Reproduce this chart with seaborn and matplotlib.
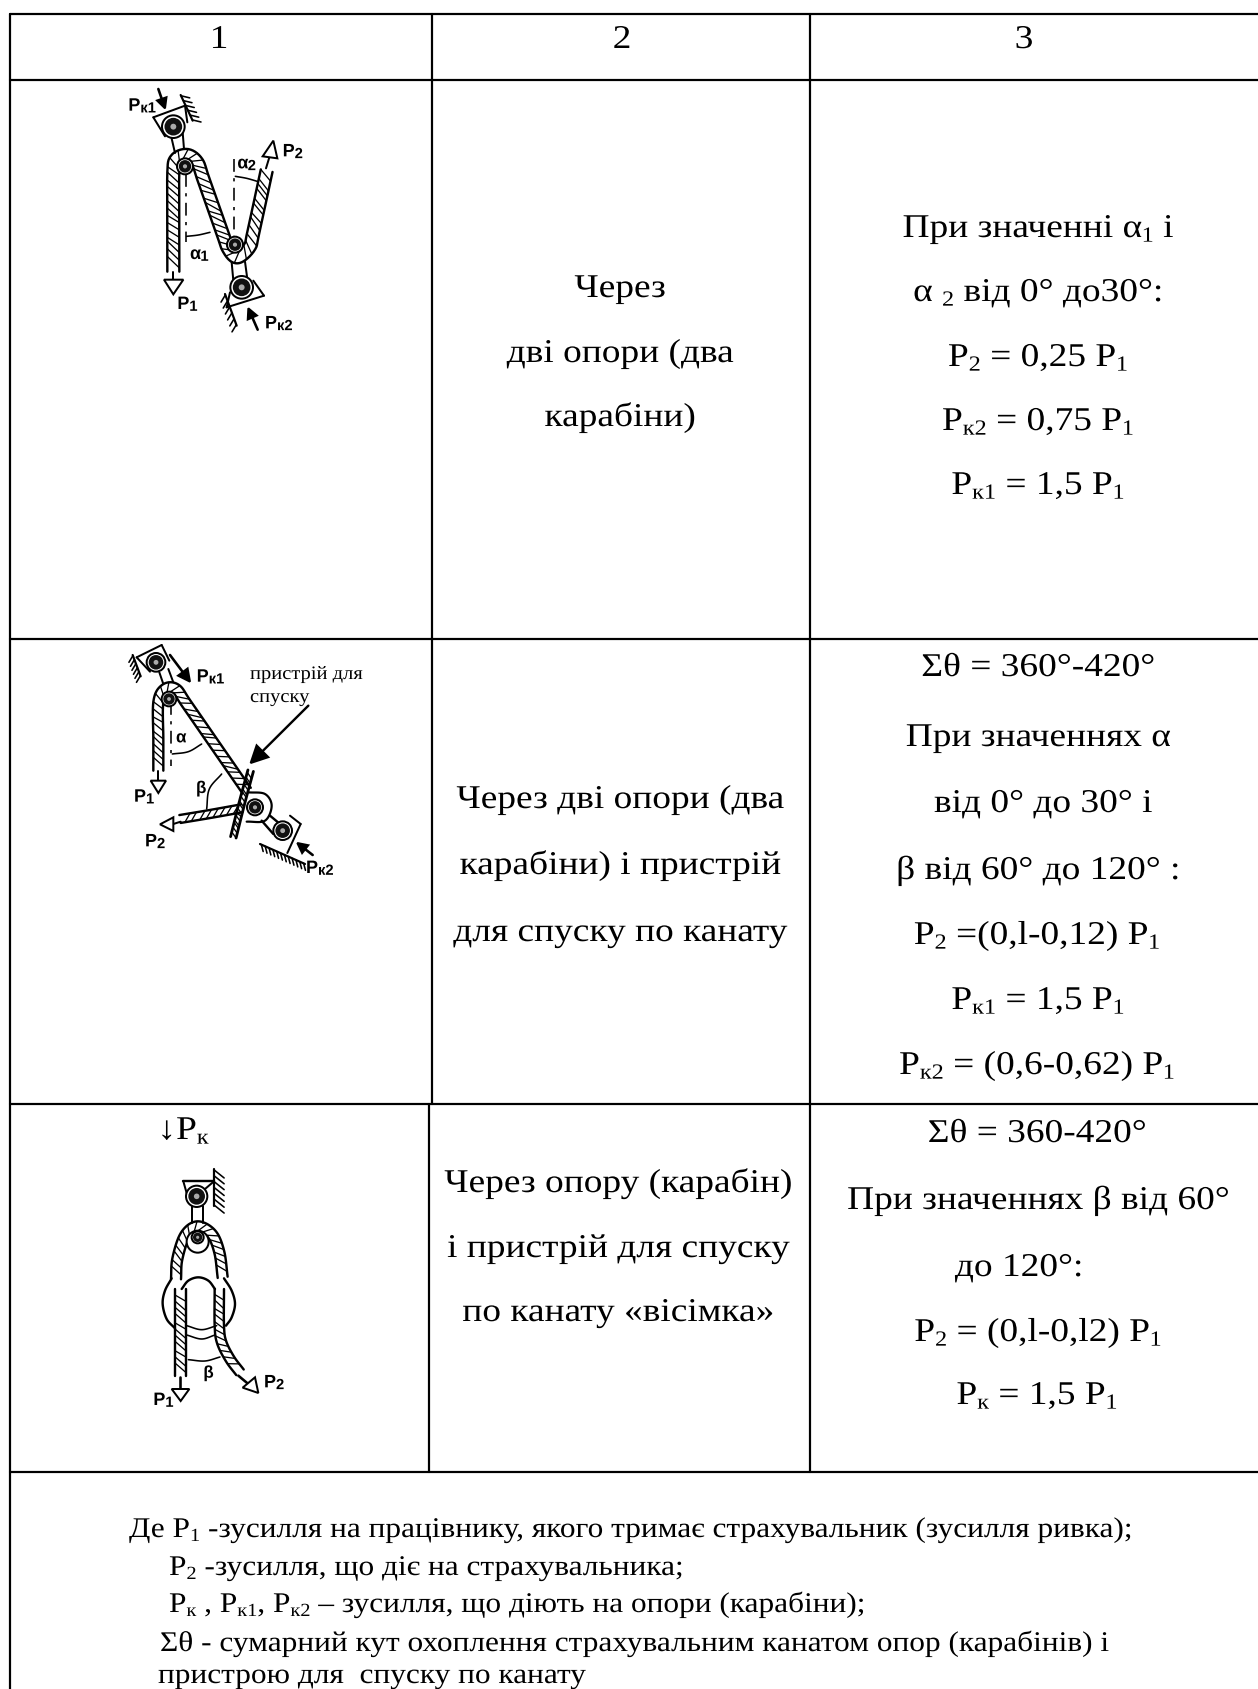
import re
import numpy as np
import matplotlib
matplotlib.use("Agg")
import matplotlib.pyplot as plt
from matplotlib.patches import Circle, Polygon
from matplotlib.patheffects import AbstractPathEffect
from matplotlib.transforms import Affine2D
import seaborn as sns

# table text, _{..} marks a subscript
header = ["1", "2", "3"]
row1_mid = ["Через", "дві опори (два", "карабіни)"]
row1_right = ["При значенні α_{1} і", "α _{2} від 0° до30°:", "P_{2} = 0,25 P_{1}",
              "P_{к2} = 0,75 P_{1}", "P_{к1} = 1,5 P_{1}"]
row2_mid = ["Через дві опори (два", "карабіни) і пристрій", "для спуску по канату"]
row2_right = ["Σθ = 360°-420°", "При значеннях α", "від 0° до 30° і", "β від 60° до 120° :",
              "P_{2} =(0,l-0,12) P_{1}", "P_{к1} = 1,5 P_{1}", "P_{к2} = (0,6-0,62) P_{1}"]
row3_mid = ["Через опору (карабін)", "і пристрій для спуску", "по канату «вісімка»"]
row3_right = ["Σθ = 360-420°", "При значеннях β від 60°", "до 120°:",
              "P_{2} = (0,l-0,l2) P_{1}", "P_{к} = 1,5 P_{1}"]
notes = ["Де P_{1} -зусилля на працівнику, якого тримає страхувальник (зусилля ривка);",
         "P_{2} -зусилля, що діє на страхувальника;",
         "P_{к} , P_{к1}, P_{к2} – зусилля, що діють на опори (карабіни);",
         "Σθ - сумарний кут охоплення страхувальним канатом опор (карабінів) і",
         "пристрою для  спуску по канату"]
device_note = ["пристрій для", "спуску"]

W, H = 1258, 1690
DPI = 100
SERIF = "Liberation Serif"
SANS = "Liberation Sans"
WIDE = 1.126  # the scan is stretched sideways

sns.set_theme(style="white")
plt.rcParams["font.family"] = [SERIF, "DejaVu Sans"]
plt.rcParams["text.hinting"] = "none"

fig = plt.figure(figsize=(W / DPI, H / DPI), dpi=DPI, facecolor="white")
ax = fig.add_axes([0, 0, 1, 1])
ax.set_xlim(0, W)
ax.set_ylim(H, 0)
ax.set_axis_off()
ax.set_autoscale_on(False)
rend = fig.canvas.get_renderer()


class Stretch(AbstractPathEffect):
    def __init__(self, sx, x0):
        super().__init__()
        self.sx, self.x0 = sx, x0

    def draw_path(self, renderer, gc, tpath, affine, rgbFace=None):
        t = affine + Affine2D().translate(-self.x0, 0).scale(self.sx, 1).translate(self.x0, 0)
        renderer.draw_path(gc, tpath, t, rgbFace)


def px(v):
    return v * 72 / DPI


def text_w(s, size, family):
    a = ax.text(0, 0, "x" + s + "x", fontsize=px(size), family=family)
    b = ax.text(0, 0, "xx", fontsize=px(size), family=family)
    w = a.get_window_extent(rend).width - b.get_window_extent(rend).width
    a.remove()
    b.remove()
    return w


def put(s, x, y, size, align="center", family=SERIF, sub=0.65, drop=0.14, weight="normal", sx=WIDE):
    parts = re.split(r"(_\{.*?\})", s)
    runs = []
    for p in parts:
        if not p:
            continue
        if p.startswith("_{"):
            runs.append((p[2:-1], size * sub, drop * size))
        else:
            runs.append((p, size, 0))
    widths = [text_w(r[0], r[1], family) * sx for r in runs]
    cur = x - sum(widths) / 2 if align == "center" else x
    for (t, sz, dy), w in zip(runs, widths):
        ax.text(cur, y + dy, t, fontsize=px(sz), family=family, ha="left", va="baseline",
                color="black", weight=weight, path_effects=[Stretch(sx, cur)])
        cur += w


def rule(xs, ys):
    sns.lineplot(x=xs, y=ys, color="black", linewidth=px(2.2), estimator=None, sort=False,
                 ax=ax, legend=False)


# table frame
for yy in [15, 81, 640, 1105, 1473]:
    rule([10, W], [yy, yy])
rule([10, 10], [15, H])
rule([432, 432], [15, 1105])
rule([810, 810], [15, 1473])
rule([429, 429], [1105, 1473])

# table text
SIZE = 33.2
for s, cx in zip(header, [219, 622, 1024]):
    put(s, cx, 49, SIZE)
for s, y in zip(row1_mid, [298, 363, 427]):
    put(s, 620, y, SIZE)
for s, y in zip(row1_right, [238, 302, 367, 431, 495]):
    put(s, 1038, y, SIZE)
for s, y in zip(row2_mid, [809, 875, 942]):
    put(s, 620, y, SIZE)
for s, y, cx in zip(row2_right, [677, 747, 813, 880, 945, 1010, 1075],
                    [1038, 1038, 1043, 1038, 1037, 1038, 1037]):
    put(s, cx, y, SIZE)
for s, y in zip(row3_mid, [1193, 1258, 1322]):
    put(s, 618, y, SIZE)
for s, y, cx in zip(row3_right, [1143, 1210, 1277, 1342, 1405], [1037, 1038, 1019, 1038, 1037]):
    put(s, cx, y, SIZE)
put("↓P_{к}", 183, 1140, SIZE)
for s, y, x0 in zip(notes, [1538, 1576, 1613, 1652, 1684], [129, 169, 169, 160, 158]):
    put(s, x0, y, 28.5, align="left", sx=1.10)
for s, y in zip(device_note, [680, 703]):
    put(s, 250, y, 19, align="left", sx=1.08)


# helpers for the little schemes, coordinates are in 3x zoom units of each scheme
def smooth(pts, n=14):
    p = np.array(pts, float)
    p = np.vstack([2 * p[0] - p[1], p, 2 * p[-1] - p[-2]])
    out = []
    for i in range(1, len(p) - 2):
        for t in np.linspace(0, 1, n, endpoint=False):
            out.append(0.5 * ((2 * p[i]) + (p[i + 1] - p[i - 1]) * t
                              + (2 * p[i - 1] - 5 * p[i] + 4 * p[i + 1] - p[i + 2]) * t ** 2
                              + (3 * p[i] - p[i - 1] - 3 * p[i + 1] + p[i + 2]) * t ** 3))
    out.append(p[-2])
    return np.array(out)


class Scheme:
    def __init__(self, x0, y0):
        self.x0, self.y0 = x0, y0

    def xy(self, pts):
        p = np.atleast_2d(np.array(pts, float))
        return self.x0 + p[:, 0] / 3, self.y0 + p[:, 1] / 3

    def line(self, pts, lw=2.0, ls="-"):
        x, y = self.xy(pts)
        ax.plot(x, y, color="black", lw=px(lw), ls=ls, solid_capstyle="round")

    def rope(self, pts, width=32, step=21, lw=2.4):
        c = smooth(pts)
        d = np.gradient(c, axis=0)
        d /= np.linalg.norm(d, axis=1, keepdims=True)
        nrm = np.column_stack([-d[:, 1], d[:, 0]])
        a = c + nrm * width / 2
        b = c - nrm * width / 2
        x1, y1 = self.xy(a)
        x2, y2 = self.xy(b[::-1])
        ax.add_patch(Polygon(np.column_stack([np.r_[x1, x2], np.r_[y1, y2]]), fc="white", ec="none"))
        self.line(a, lw)
        self.line(b, lw)
        seg = np.r_[0, np.cumsum(np.linalg.norm(np.diff(c, axis=0), axis=1))]
        for s in np.arange(step / 2, seg[-1] - width, step):
            i = np.searchsorted(seg, s)
            j = min(np.searchsorted(seg, s + width * 0.8), len(c) - 1)
            self.line([a[i], b[j]], 1.3)

    def wall(self, p, q, side=1, n=8, tick=26):
        p, q = np.array(p, float), np.array(q, float)
        self.line([p, q], 2.2)
        d = (q - p) / np.linalg.norm(q - p)
        nrm = np.array([-d[1], d[0]]) * side
        for t in np.linspace(0.03, 0.97, n):
            m = p + (q - p) * t
            self.line([m, m + (nrm + d * 0.8) * tick * 0.7], 1.6)

    def pin(self, c, r=28):
        x, y = self.xy(c)
        ax.add_patch(Circle((x[0], y[0]), r / 3, fc="white", ec="black", lw=px(2), zorder=4))
        ax.add_patch(Circle((x[0], y[0]), r / 3 * 0.78, fc="#111111", ec="none", zorder=5))
        ax.add_patch(Circle((x[0], y[0]), r / 3 * 0.26, fc="#aaaaaa", ec="none", zorder=6))

    def head(self, pts, fill=False):
        x, y = self.xy(pts)
        ax.add_patch(Polygon(np.column_stack([x, y]), closed=True, fc="black" if fill else "white",
                             ec="black", lw=px(2), zorder=4))

    def arrow(self, a, b, size=30, lw=2.6):
        a, b = np.array(a, float), np.array(b, float)
        d = (b - a) / np.linalg.norm(b - a)
        n = np.array([-d[1], d[0]])
        base = b - d * size
        self.line([a, base], lw)
        self.head([b, base + n * size * 0.5, base - n * size * 0.5], fill=True)

    def arc(self, pts, lw=1.6):
        self.line(smooth(pts), lw)

    def label(self, s, p, size=18):
        x, y = self.xy(p)
        put(s, x[0], y[0], size, align="left", family=SANS, sub=0.82, drop=0.1, weight="bold", sx=1.0)


# scheme in the first row
s1 = Scheme(90, 80)
s1.rope([(250, 578), (250, 420), (250, 280), (258, 240), (292, 228), (322, 250), (340, 300),
         (395, 455), (415, 510), (442, 535), (478, 505), (490, 460), (530, 275)], width=36)
s1.pin((285, 262), 24)
s1.pin((435, 497), 24)
s1.line([(243, 170), (255, 222)])
s1.line([(278, 160), (282, 210)])
s1.line([(190, 115), (285, 80)])
s1.line([(190, 115), (225, 172)])
s1.line([(285, 80), (292, 130)])
s1.wall((272, 48), (308, 125), side=-1, n=6, tick=30)
s1.pin((250, 143), 34)
s1.arrow((205, 30), (225, 88))
s1.label("P_{к1}", (115, 95))
s1.line([(528, 268), (538, 235)])
s1.head([(550, 185), (518, 232), (562, 238)])
s1.label("P_{2}", (578, 232))
s1.line([(432, 240), (432, 480)], 1.6, (0, (8, 4, 2, 4)))
s1.arc([(436, 292), (470, 298), (505, 308)])
s1.label("α_{2}", (442, 268))
s1.line([(288, 285), (288, 490)], 1.6, (0, (8, 4, 2, 4)))
s1.arc([(290, 472), (325, 468), (360, 460)])
s1.label("α_{1}", (300, 540))
s1.line([(250, 578), (250, 602)])
s1.head([(222, 602), (280, 602), (250, 646)])
s1.label("P_{1}", (262, 690))
s1.line([(425, 550), (430, 605)])
s1.line([(465, 548), (472, 600)])
s1.line([(410, 685), (522, 650)])
s1.line([(410, 685), (420, 640)])
s1.line([(522, 650), (490, 605)])
s1.pin((455, 625), 34)
s1.wall((405, 645), (440, 740), side=1, n=6, tick=28)
s1.arrow((503, 752), (475, 688))
s1.label("P_{к2}", (525, 748))

# scheme in the second row
s2 = Scheme(90, 640)
s2.rope([(205, 395), (205, 300), (205, 190), (225, 150), (258, 150), (290, 195), (380, 325),
         (470, 455)], width=30)
s2.pin((237, 180), 22)
s2.line([(208, 100), (220, 135)])
s2.line([(235, 90), (250, 130)])
s2.line([(140, 55), (215, 18)])
s2.line([(140, 55), (180, 98)])
s2.line([(215, 18), (238, 65)])
s2.wall((128, 48), (152, 112), side=1, n=6, tick=26)
s2.pin((198, 70), 28)
s2.arrow((240, 48), (300, 128), size=36)
s2.label("P_{к1}", (320, 128))
s2.line([(243, 190), (243, 380)], 1.6, (0, (8, 4, 2, 4)))
s2.arc([(247, 345), (295, 338), (335, 315)])
s2.label("α", (258, 310), 17)
s2.line([(205, 395), (205, 425)])
s2.head([(182, 425), (228, 425), (205, 462)])
s2.label("P_{1}", (132, 488))
s2.rope([(270, 540), (360, 525), (455, 508)], width=24)
s2.line([(250, 555), (272, 548)])
s2.head([(210, 556), (250, 535), (250, 576)])
s2.label("P_{2}", (165, 622))
s2.arc([(350, 510), (358, 450), (395, 405)])
s2.label("β", (318, 462), 17)
s2.arc([(475, 460), (525, 465), (545, 500), (525, 545), (470, 548)], 2.2)
s2.pin((495, 505), 24)
s2.rope([(482, 395), (455, 495), (430, 595)], width=17, step=12, lw=2.8)
s2.line([(515, 545), (550, 585)], 2.4)
s2.line([(540, 530), (570, 555)], 2.4)
s2.pin((578, 575), 28)
s2.line([(600, 530), (632, 555)])
s2.line([(632, 555), (592, 642)])
s2.wall((510, 615), (645, 675), side=1, n=12, tick=24)
s2.arrow((668, 648), (622, 612))
s2.label("P_{к2}", (648, 702))
s2.arrow((655, 200), (482, 372), size=50, lw=2.4)

# scheme in the third row
s3 = Scheme(120, 1120)
s3.line([(190, 187), (282, 187)], 2.4)
s3.line([(190, 187), (205, 240)])
s3.line([(282, 187), (255, 210)])
s3.wall((283, 150), (283, 262), side=-1, n=7, tick=42)
s3.pin((230, 232), 32)
s3.line([(217, 262), (217, 312)])
s3.line([(248, 262), (248, 312)])
s3.rope([(168, 480), (172, 420), (195, 350), (232, 322), (275, 345), (298, 400), (308, 475)], width=30)
x3, y3 = s3.xy((233, 368))
ax.add_patch(Circle((x3[0], y3[0]), 11, fc="white", ec="black", lw=px(2), zorder=3))
s3.pin((233, 355), 18)
s3.arc([(155, 478), (135, 515), (128, 555), (140, 600), (165, 628)], 2.4)
s3.arc([(312, 478), (335, 515), (345, 555), (335, 595), (318, 620)], 2.4)
s3.arc([(185, 510), (205, 485), (235, 475), (265, 485), (285, 510)], 2.4)
s3.arc([(200, 620), (245, 632), (290, 620)])
s3.arc([(200, 648), (245, 660), (285, 648)])
s3.rope([(182, 510), (182, 640), (182, 770)], width=32)
s3.rope([(298, 510), (298, 620), (305, 670), (330, 720), (360, 760)], width=28)
s3.arc([(205, 722), (255, 726), (300, 714)])
s3.label("β", (250, 776), 17)
s3.line([(180, 775), (180, 810)], 2.6)
s3.head([(155, 810), (208, 810), (182, 846)])
s3.label("P_{1}", (100, 858))
s3.line([(355, 770), (385, 795)], 2.6)
s3.head([(368, 806), (405, 775), (415, 822)])
s3.label("P_{2}", (432, 805))

ax.set_xlim(0, W)
ax.set_ylim(H, 0)
fig.savefig("out.png", dpi=DPI, facecolor="white")
